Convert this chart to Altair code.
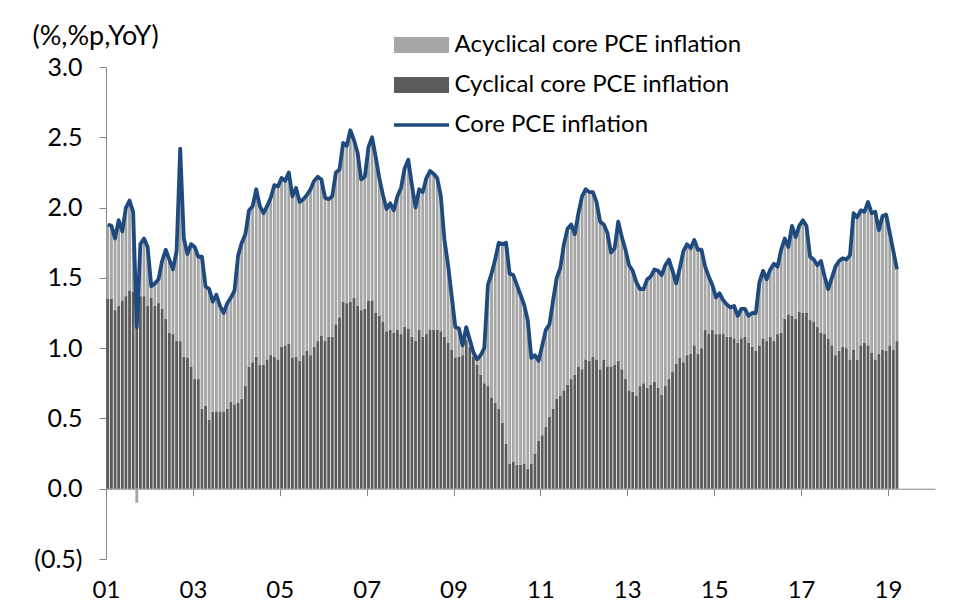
import altair as alt
import pandas as pd

# Monthly data, Jan 2001 .. Mar 2019 (%, %p, YoY)
core = [
    1.88, 1.87, 1.78, 1.91, 1.83, 2.00, 2.05, 1.97, 1.15, 1.74, 1.78, 1.72,
    1.44, 1.46, 1.49, 1.62, 1.70, 1.63, 1.56, 1.69, 2.42, 1.78, 1.67, 1.74,
    1.72, 1.65, 1.65, 1.44, 1.42, 1.33, 1.38, 1.30, 1.25, 1.32, 1.36, 1.41,
    1.66, 1.75, 1.81, 1.98, 2.01, 2.13, 2.01, 1.96, 2.01, 2.07, 2.16, 2.15,
    2.21, 2.19, 2.25, 2.08, 2.14, 2.04, 2.06, 2.09, 2.13, 2.19, 2.22, 2.20,
    2.07, 2.06, 2.08, 2.25, 2.27, 2.46, 2.44, 2.55, 2.48, 2.39, 2.20, 2.22,
    2.43, 2.50, 2.36, 2.21, 2.09, 1.99, 2.03, 1.98, 2.08, 2.14, 2.28, 2.34,
    2.16, 2.00, 2.13, 2.11, 2.21, 2.26, 2.24, 2.21, 2.08, 1.77, 1.59, 1.37,
    1.15, 1.14, 1.02, 1.15, 1.06, 0.97, 0.92, 0.95, 1.00, 1.45, 1.53, 1.63,
    1.75, 1.74, 1.75, 1.53, 1.52, 1.45, 1.38, 1.31, 1.20, 0.93, 0.95, 0.91,
    1.02, 1.13, 1.17, 1.34, 1.50, 1.57, 1.74, 1.85, 1.88, 1.81, 1.96, 2.08,
    2.13, 2.11, 2.11, 2.04, 1.90, 1.88, 1.82, 1.68, 1.71, 1.90, 1.79, 1.70,
    1.59, 1.55, 1.47, 1.42, 1.42, 1.49, 1.51, 1.56, 1.55, 1.52, 1.59, 1.63,
    1.55, 1.46, 1.57, 1.69, 1.74, 1.71, 1.77, 1.70, 1.70, 1.58, 1.51, 1.45,
    1.36, 1.39, 1.34, 1.31, 1.29, 1.30, 1.23, 1.28, 1.28, 1.23, 1.25, 1.25,
    1.47, 1.55, 1.49, 1.56, 1.60, 1.58, 1.70, 1.78, 1.72, 1.87, 1.79, 1.87,
    1.91, 1.87, 1.65, 1.63, 1.59, 1.62, 1.51, 1.42, 1.50, 1.58, 1.62, 1.64,
    1.63, 1.66, 1.96, 1.93, 1.98, 1.97, 2.04, 1.96, 1.97, 1.84, 1.94, 1.95,
    1.82, 1.69, 1.56,
]

cyclical = [
    1.35, 1.35, 1.27, 1.30, 1.34, 1.37, 1.41, 1.40, 1.25, 1.37, 1.37, 1.30,
    1.36, 1.30, 1.32, 1.28, 1.21, 1.11, 1.10, 1.05, 1.05, 0.94, 0.93, 0.87,
    0.78, 0.78, 0.57, 0.59, 0.49, 0.55, 0.55, 0.55, 0.55, 0.57, 0.62, 0.60,
    0.61, 0.64, 0.73, 0.87, 0.90, 0.94, 0.88, 0.88, 0.92, 0.95, 0.94, 0.92,
    1.01, 1.02, 1.03, 0.93, 0.94, 0.91, 0.95, 0.98, 0.95, 1.01, 1.05, 1.09,
    1.05, 1.08, 1.08, 1.17, 1.22, 1.33, 1.32, 1.33, 1.36, 1.30, 1.27, 1.28,
    1.34, 1.34, 1.25, 1.23, 1.19, 1.12, 1.13, 1.11, 1.13, 1.10, 1.15, 1.14,
    1.08, 1.05, 1.13, 1.08, 1.10, 1.13, 1.13, 1.13, 1.12, 1.08, 1.04, 0.99,
    0.93, 0.94, 0.95, 1.06, 1.01, 0.94, 0.88, 0.81, 0.75, 0.73, 0.65, 0.61,
    0.57, 0.47, 0.32, 0.18, 0.19, 0.17, 0.17, 0.18, 0.14, 0.18, 0.25, 0.34,
    0.38, 0.44, 0.51, 0.57, 0.64, 0.66, 0.70, 0.74, 0.78, 0.81, 0.87, 0.85,
    0.92, 0.91, 0.94, 0.92, 0.85, 0.92, 0.87, 0.87, 0.88, 0.91, 0.85, 0.78,
    0.70, 0.69, 0.66, 0.73, 0.75, 0.72, 0.74, 0.76, 0.72, 0.67, 0.73, 0.78,
    0.83, 0.89, 0.93, 0.90, 0.95, 0.96, 1.02, 0.96, 1.00, 1.13, 1.10, 1.13,
    1.10, 1.10, 1.10, 1.08, 1.08, 1.07, 1.04, 1.07, 1.08, 1.04, 1.01, 0.98,
    1.02, 1.07, 1.05, 1.08, 1.05, 1.10, 1.11, 1.21, 1.24, 1.23, 1.21, 1.26,
    1.25, 1.25, 1.20, 1.19, 1.15, 1.11, 1.10, 1.07, 1.02, 0.95, 0.98, 1.01,
    1.00, 0.92, 0.99, 0.92, 1.02, 1.04, 1.02, 0.97, 0.92, 0.96, 0.99, 0.98,
    1.02, 0.99, 1.05,
]

acyclical = [
    0.53, 0.52, 0.51, 0.61, 0.49, 0.63, 0.64, 0.57, -0.10, 0.37, 0.41, 0.42,
    0.08, 0.16, 0.17, 0.34, 0.49, 0.52, 0.46, 0.64, 1.37, 0.84, 0.74, 0.87,
    0.94, 0.87, 1.08, 0.85, 0.93, 0.78, 0.83, 0.75, 0.70, 0.75, 0.74, 0.81,
    1.05, 1.11, 1.08, 1.11, 1.11, 1.19, 1.13, 1.08, 1.09, 1.12, 1.22, 1.23,
    1.20, 1.17, 1.22, 1.15, 1.20, 1.13, 1.11, 1.11, 1.18, 1.18, 1.17, 1.11,
    1.02, 0.98, 1.00, 1.08, 1.05, 1.13, 1.12, 1.22, 1.12, 1.09, 0.93, 0.94,
    1.09, 1.16, 1.11, 0.98, 0.90, 0.87, 0.90, 0.87, 0.95, 1.04, 1.13, 1.20,
    1.08, 0.95, 1.00, 1.03, 1.11, 1.13, 1.11, 1.08, 0.96, 0.69, 0.55, 0.38,
    0.22, 0.20, 0.07, 0.09, 0.05, 0.03, 0.04, 0.14, 0.25, 0.72, 0.88, 1.02,
    1.18, 1.27, 1.43, 1.35, 1.33, 1.28, 1.21, 1.13, 1.06, 0.75, 0.70, 0.57,
    0.64, 0.69, 0.66, 0.77, 0.86, 0.91, 1.04, 1.11, 1.10, 1.00, 1.09, 1.23,
    1.21, 1.20, 1.17, 1.12, 1.05, 0.96, 0.95, 0.81, 0.83, 0.99, 0.94, 0.92,
    0.89, 0.86, 0.81, 0.69, 0.67, 0.77, 0.77, 0.80, 0.83, 0.85, 0.86, 0.85,
    0.72, 0.57, 0.64, 0.79, 0.79, 0.75, 0.75, 0.74, 0.70, 0.45, 0.41, 0.32,
    0.26, 0.29, 0.24, 0.23, 0.21, 0.23, 0.19, 0.21, 0.20, 0.19, 0.24, 0.27,
    0.45, 0.48, 0.44, 0.48, 0.55, 0.48, 0.59, 0.57, 0.48, 0.64, 0.58, 0.61,
    0.66, 0.62, 0.45, 0.44, 0.44, 0.51, 0.41, 0.35, 0.48, 0.63, 0.64, 0.63,
    0.63, 0.74, 0.97, 1.01, 0.96, 0.93, 1.02, 0.99, 1.05, 0.88, 0.95, 0.97,
    0.80, 0.70, 0.51,
]

ACY = "Acyclical core PCE inflation"
CYC = "Cyclical core PCE inflation"
CORE = "Core PCE inflation"
x_tick_values = [0, 24, 48, 72, 96, 120, 144, 168, 192, 216]
y_tick_values = [-0.5, 0.0, 0.5, 1.0, 1.5, 2.0, 2.5, 3.0]

n = len(core)
months = list(range(n))
bars_df = pd.DataFrame({
    "k": months + months,
    "value": cyclical + acyclical,
    "series": [CYC] * n + [ACY] * n,
    "ord": [0] * n + [1] * n,
})
line_df = pd.DataFrame({"k": months, "value": core, "name": [CORE] * n})

FONT = "Lato"
AXIS_GRAY = "#878787"

xscale = alt.Scale(domain=[0, 229], nice=False, zero=False)
yscale = alt.Scale(domain=[-0.5, 3.0], nice=False, zero=False)

xaxis = alt.Axis(
    values=x_tick_values,
    labelExpr="(floor(datum.value/12)+1 < 10 ? '0' : '') + (floor(datum.value/12)+1)",
    offset=-70.29, tickSize=7, tickColor=AXIS_GRAY, domainColor=AXIS_GRAY,
    labelPadding=83, labelFontSize=24, labelFont=FONT, labelColor="black",
    labelFlush=False, labelOverlap=False, grid=False, title=None,
)
yaxis = alt.Axis(
    values=y_tick_values,
    labelExpr="datum.value < 0 ? '(' + format(-datum.value, '.1f') + ')' : format(datum.value, '.1f') + '\u2008'",
    tickSize=7, tickColor=AXIS_GRAY, domainColor=AXIS_GRAY,
    labelPadding=17, labelFontSize=25, labelFont=FONT, labelColor="black",
    labelFlush=False, labelOverlap=False, grid=False,
    title="(%,%p,YoY)", titleAngle=0, titleAlign="left", titleBaseline="alphabetic",
    titleX=-74, titleY=-23, titleFont=FONT, titleFontSize=27, titleFontWeight="normal",
    titleColor="black",
)

bars = alt.Chart(bars_df).transform_stack(
    stack="value", groupby=["k"], as_=["v0", "v1"],
    sort=[alt.SortField("ord", order="ascending")], offset="zero",
).transform_calculate(
    xa="datum.k + 0.11", xb="datum.k + 0.89"
).mark_bar().encode(
    x=alt.X("xa:Q", scale=xscale, axis=xaxis),
    x2="xb:Q",
    y=alt.Y("v0:Q", scale=yscale, axis=yaxis),
    y2="v1:Q",
    fill=alt.Fill(
        "series:N",
        scale=alt.Scale(domain=[ACY, CYC], range=["#A6A6A6", "#5B5B5B"]),
        legend=alt.Legend(
            title=None, orient="none", legendX=303.5, legendY=-34,
            symbolType="M-2.75,-0.8H2.75V0.8H-2.75Z", symbolSize=400,
            symbolStrokeWidth=0, labelOffset=21, labelFont=FONT,
            labelFontSize=24, labelColor="black", labelLimit=500,
            rowPadding=16, padding=0,
        ),
    ),
)

line = alt.Chart(line_df).transform_calculate(
    xc="datum.k + 0.5"
).mark_line(strokeWidth=3.8, strokeJoin="round").encode(
    x=alt.X("xc:Q", scale=xscale, axis=xaxis),
    y=alt.Y("value:Q", scale=yscale, axis=yaxis),
    stroke=alt.Stroke(
        "name:N",
        scale=alt.Scale(domain=[CORE], range=["#1F4A7E"]),
        legend=alt.Legend(
            title=None, orient="none", legendX=303.5, legendY=46,
            symbolType="M-2.75,0H2.75", symbolSize=400,
            symbolStrokeWidth=3.4, labelOffset=21, labelFont=FONT,
            labelFontSize=24, labelColor="black", labelLimit=500, padding=0,
        ),
    ),
)

chart = alt.layer(bars, line).properties(
    width=829, height=492,
    autosize=alt.AutoSizeParams(type="none"),
    padding={"left": 98, "top": 59, "right": 15, "bottom": 45},
    background="white",
).configure_view(stroke=None)

chart.save("out.html", embed_options={"renderer": "svg", "actions": False})
